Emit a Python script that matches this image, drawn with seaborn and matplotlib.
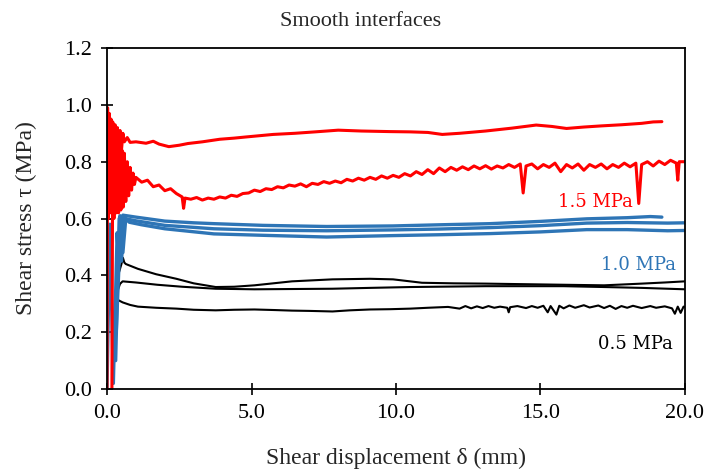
import numpy as np
import pandas as pd
import matplotlib
matplotlib.use("Agg")
import matplotlib.pyplot as plt
import seaborn as sns

# curvas (desplazamiento mm, tension MPa)
red_hi_x = [0.0, 0.02, 0.05, 0.08, 0.11, 0.14, 0.17, 0.2, 0.24, 0.28, 0.32, 0.36, 0.4, 0.45, 0.5, 0.55,
            0.6, 0.7, 0.8, 1.0, 1.35, 1.6, 1.8, 2.14, 2.5, 2.8, 3.3, 3.9, 4.4, 4.8, 5.75, 6.5, 7.2, 8.0,
            8.8, 9.77, 10.5, 11.1, 11.6, 12.2, 13.1, 14.0, 14.85, 15.4, 15.9, 16.5, 17.1, 17.8, 18.5, 18.9, 19.2]
red_hi_y = [0.0, 0.99, 0.6, 0.97, 0.62, 0.95, 0.64, 0.94, 0.66, 0.93, 0.72, 0.92, 0.78, 0.91, 0.84, 0.9,
            0.87, 0.885, 0.868, 0.87, 0.865, 0.872, 0.862, 0.853, 0.858, 0.864, 0.87, 0.879, 0.883, 0.887, 0.896, 0.9, 0.905, 0.911,
            0.908, 0.906, 0.905, 0.903, 0.896, 0.9, 0.908, 0.918, 0.929, 0.924, 0.917, 0.922, 0.926, 0.93, 0.935, 0.94, 0.941]

red_lo_x = [0.17, 0.2, 0.24, 0.28, 0.32, 0.36, 0.4, 0.44, 0.48, 0.52, 0.56, 0.6, 0.65, 0.7, 0.75, 0.8, 0.85, 0.9, 0.95,
            1.0, 1.2, 1.4, 1.6, 1.8, 2.0, 2.2, 2.4, 2.6, 2.65, 2.7, 2.9, 3.1, 3.3, 3.5, 3.7, 3.9, 4.1, 4.3, 4.5,
            4.7, 4.9, 5.1, 5.3, 5.5, 5.7, 5.9, 6.1, 6.3, 6.5, 6.7, 6.9, 7.1, 7.3, 7.5, 7.7, 7.9, 8.1, 8.3, 8.5,
            8.7, 8.9, 9.1, 9.3, 9.5, 9.7, 9.9, 10.1, 10.3, 10.5, 10.7, 10.9, 11.1, 11.3, 11.5, 11.7, 11.9, 12.1,
            12.3, 12.5, 12.7, 12.9, 13.1, 13.3, 13.5, 13.7, 13.9, 14.1, 14.3, 14.4, 14.5, 14.7, 14.9, 15.1, 15.3,
            15.5, 15.7, 15.9, 16.1, 16.3, 16.5, 16.7, 16.9, 17.1, 17.3, 17.5, 17.7, 17.9, 18.1, 18.3, 18.4, 18.5,
            18.7, 18.9, 19.1, 19.3, 19.5, 19.7, 19.75, 19.8, 20.0]
red_lo_y = [0.0, 0.92, 0.6, 0.9, 0.62, 0.88, 0.62, 0.86, 0.63, 0.84, 0.64, 0.83, 0.66, 0.8, 0.68, 0.78, 0.7, 0.76, 0.72,
            0.745, 0.728, 0.735, 0.712, 0.718, 0.698, 0.705, 0.688, 0.676, 0.636, 0.672, 0.668, 0.674, 0.665, 0.672, 0.668, 0.676, 0.672, 0.682, 0.678,
            0.688, 0.69, 0.7, 0.695, 0.705, 0.702, 0.712, 0.708, 0.718, 0.714, 0.722, 0.712, 0.724, 0.72, 0.73, 0.724, 0.732, 0.726, 0.738, 0.732,
            0.742, 0.735, 0.745, 0.738, 0.75, 0.742, 0.752, 0.745, 0.758, 0.75, 0.765, 0.755, 0.772, 0.758, 0.778, 0.765, 0.78, 0.77,
            0.782, 0.772, 0.785, 0.775, 0.786, 0.774, 0.785, 0.778, 0.79, 0.78, 0.792, 0.69, 0.785, 0.792, 0.775, 0.79, 0.78,
            0.795, 0.765, 0.79, 0.778, 0.792, 0.77, 0.79, 0.78, 0.792, 0.775, 0.79, 0.78, 0.795, 0.782, 0.795, 0.653, 0.79,
            0.8, 0.785, 0.802, 0.79, 0.805, 0.795, 0.735, 0.8, 0.8]

blue_a_x = [0.0, 0.1, 0.22, 0.35, 0.4, 0.45, 0.5, 0.55, 0.61, 1.0, 2.0, 3.0, 3.7, 5.4, 7.6, 9.9, 11.5, 13.25, 15.0, 16.6, 18.0, 18.8, 19.2]
blue_a_y = [0.0, 0.58, 0.02, 0.55, 0.45, 0.61, 0.5, 0.612, 0.611, 0.605, 0.591, 0.585, 0.582, 0.576, 0.572, 0.574, 0.578, 0.582, 0.59, 0.599, 0.603, 0.607, 0.605]
blue_b_x = [0.3, 0.42, 0.5, 0.6, 0.66, 1.0, 2.0, 3.7, 5.4, 7.6, 9.9, 11.5, 13.25, 15.0, 16.6, 18.0, 19.4, 20.0]
blue_b_y = [0.1, 0.6, 0.45, 0.6, 0.599, 0.592, 0.576, 0.564, 0.559, 0.557, 0.56, 0.563, 0.568, 0.575, 0.584, 0.586, 0.584, 0.585]
blue_c_x = [0.32, 0.48, 0.55, 0.65, 0.77, 1.2, 2.0, 3.7, 5.4, 7.6, 9.9, 11.5, 13.25, 15.0, 16.6, 18.0, 19.4, 20.0]
blue_c_y = [0.2, 0.6, 0.48, 0.6, 0.587, 0.578, 0.564, 0.546, 0.541, 0.535, 0.54, 0.543, 0.547, 0.553, 0.561, 0.561, 0.557, 0.558]

blk_a_x = [0.3, 0.33, 0.5, 0.55, 0.6, 0.65, 1.07, 1.7, 2.4, 3.0, 3.76, 4.4, 5.1, 6.4, 7.8, 9.1, 9.9, 10.9, 12.0, 13.1, 15.8, 17.2, 18.5, 19.3, 20.0]
blk_a_y = [0.33, 0.382, 0.44, 0.462, 0.445, 0.44, 0.423, 0.404, 0.388, 0.372, 0.359, 0.36, 0.365, 0.379, 0.386, 0.388, 0.386, 0.374, 0.372, 0.371, 0.367, 0.365, 0.371, 0.375, 0.379]
blk_b_x = [0.28, 0.31, 0.38, 0.45, 0.54, 1.0, 1.74, 2.6, 3.76, 5.1, 6.4, 7.8, 9.1, 10.5, 13.1, 15.8, 17.2, 18.5, 20.0]
blk_b_y = [0.28, 0.31, 0.35, 0.37, 0.379, 0.375, 0.367, 0.36, 0.353, 0.351, 0.352, 0.353, 0.356, 0.359, 0.362, 0.362, 0.359, 0.356, 0.351]
blk_c_x = [0.28, 0.3, 0.33, 0.54, 0.8, 1.07, 1.7, 2.4, 3.0, 3.76, 4.4, 5.1, 5.8, 6.4, 7.0, 7.8, 8.4, 9.1, 9.8, 10.5,
           11.1, 11.8, 12.2, 12.4, 12.6, 12.8, 13.0, 13.2, 13.4, 13.6, 13.85, 13.9, 13.95, 14.2, 14.5, 14.7, 14.9,
           15.1, 15.25, 15.35, 15.55, 15.65, 15.8, 16.0, 16.2, 16.5, 16.7, 17.0, 17.2, 17.4, 17.6, 17.8, 18.0,
           18.2, 18.5, 18.8, 19.0, 19.3, 19.55, 19.65, 19.75, 19.85, 19.95, 20.0]
blk_c_y = [0.26, 0.29, 0.316, 0.305, 0.296, 0.29, 0.286, 0.283, 0.279, 0.277, 0.279, 0.28, 0.278, 0.276, 0.275, 0.273, 0.277, 0.28, 0.281, 0.283,
           0.286, 0.289, 0.283, 0.292, 0.284, 0.291, 0.285, 0.292, 0.286, 0.29, 0.286, 0.27, 0.288, 0.292, 0.285, 0.292, 0.286,
           0.293, 0.27, 0.292, 0.262, 0.293, 0.284, 0.294, 0.286, 0.295, 0.287, 0.294, 0.285, 0.293, 0.282, 0.292, 0.286,
           0.293, 0.285, 0.292, 0.286, 0.291, 0.284, 0.265, 0.29, 0.268, 0.29, 0.289]

x_ticks = [0, 5, 10, 15, 20]
y_ticks = [0.0, 0.2, 0.4, 0.6, 0.8, 1.0, 1.2]

# etiquetas de cada nivel de tension normal
etiquetas = ["1.5 MPa", "1.0 MPa", "0.5 MPa"]
etiq_x = [16.9, 18.4, 18.3]
etiq_y = [0.657, 0.435, 0.157]

rojo = "#FF0000"
azul = "#2E75B6"
etiq_col = [rojo, azul, "black"]

sns.set_style("ticks")
plt.rcParams["font.family"] = ["Liberation Serif", "DejaVu Serif"]

fig = plt.figure(figsize=(7.04, 4.71), dpi=100)
ax = fig.add_axes([0.152, 0.174, 0.821, 0.724])

curvas = [
    (blk_a_x, blk_a_y, "black", 1.5),
    (blk_b_x, blk_b_y, "black", 1.5),
    (blk_c_x, blk_c_y, "black", 1.5),
    (blue_a_x, blue_a_y, azul, 2.4),
    (blue_b_x, blue_b_y, azul, 2.4),
    (blue_c_x, blue_c_y, azul, 2.4),
    (red_lo_x, red_lo_y, rojo, 2.2),
    (red_hi_x, red_hi_y, rojo, 2.2),
]
for cx, cy, col, lw in curvas:
    sns.lineplot(x=cx, y=cy, color=col, linewidth=lw, sort=False, estimator=None, ax=ax)

ax.set_xlim(0, 20)
ax.set_ylim(0, 1.2)
ax.set_xticks(x_ticks)
ax.set_xticklabels([f"{t:.1f}" for t in x_ticks])
ax.set_yticks(y_ticks)
ax.set_yticklabels([f"{t:.1f}" for t in y_ticks])
ax.tick_params(direction="inout", length=9, width=1.2, labelsize=16, colors="black", pad=6)
for s in ax.spines.values():
    s.set_visible(True)
    s.set_linewidth(1.3)
    s.set_color("black")

ax.set_xlabel("Shear displacement δ (mm)", fontsize=17, labelpad=18)
ax.set_ylabel("Shear stress τ (MPa)", fontsize=17, labelpad=20)
fig.text(0.512, 0.955, "Smooth interfaces", fontsize=16, ha="center", va="center")

for t, tx, ty, c in zip(etiquetas, etiq_x, etiq_y, etiq_col):
    ax.text(tx, ty, t, color=c, fontsize=13, ha="center", va="center", family="DejaVu Serif")

fig.savefig("out.png", dpi=100)
